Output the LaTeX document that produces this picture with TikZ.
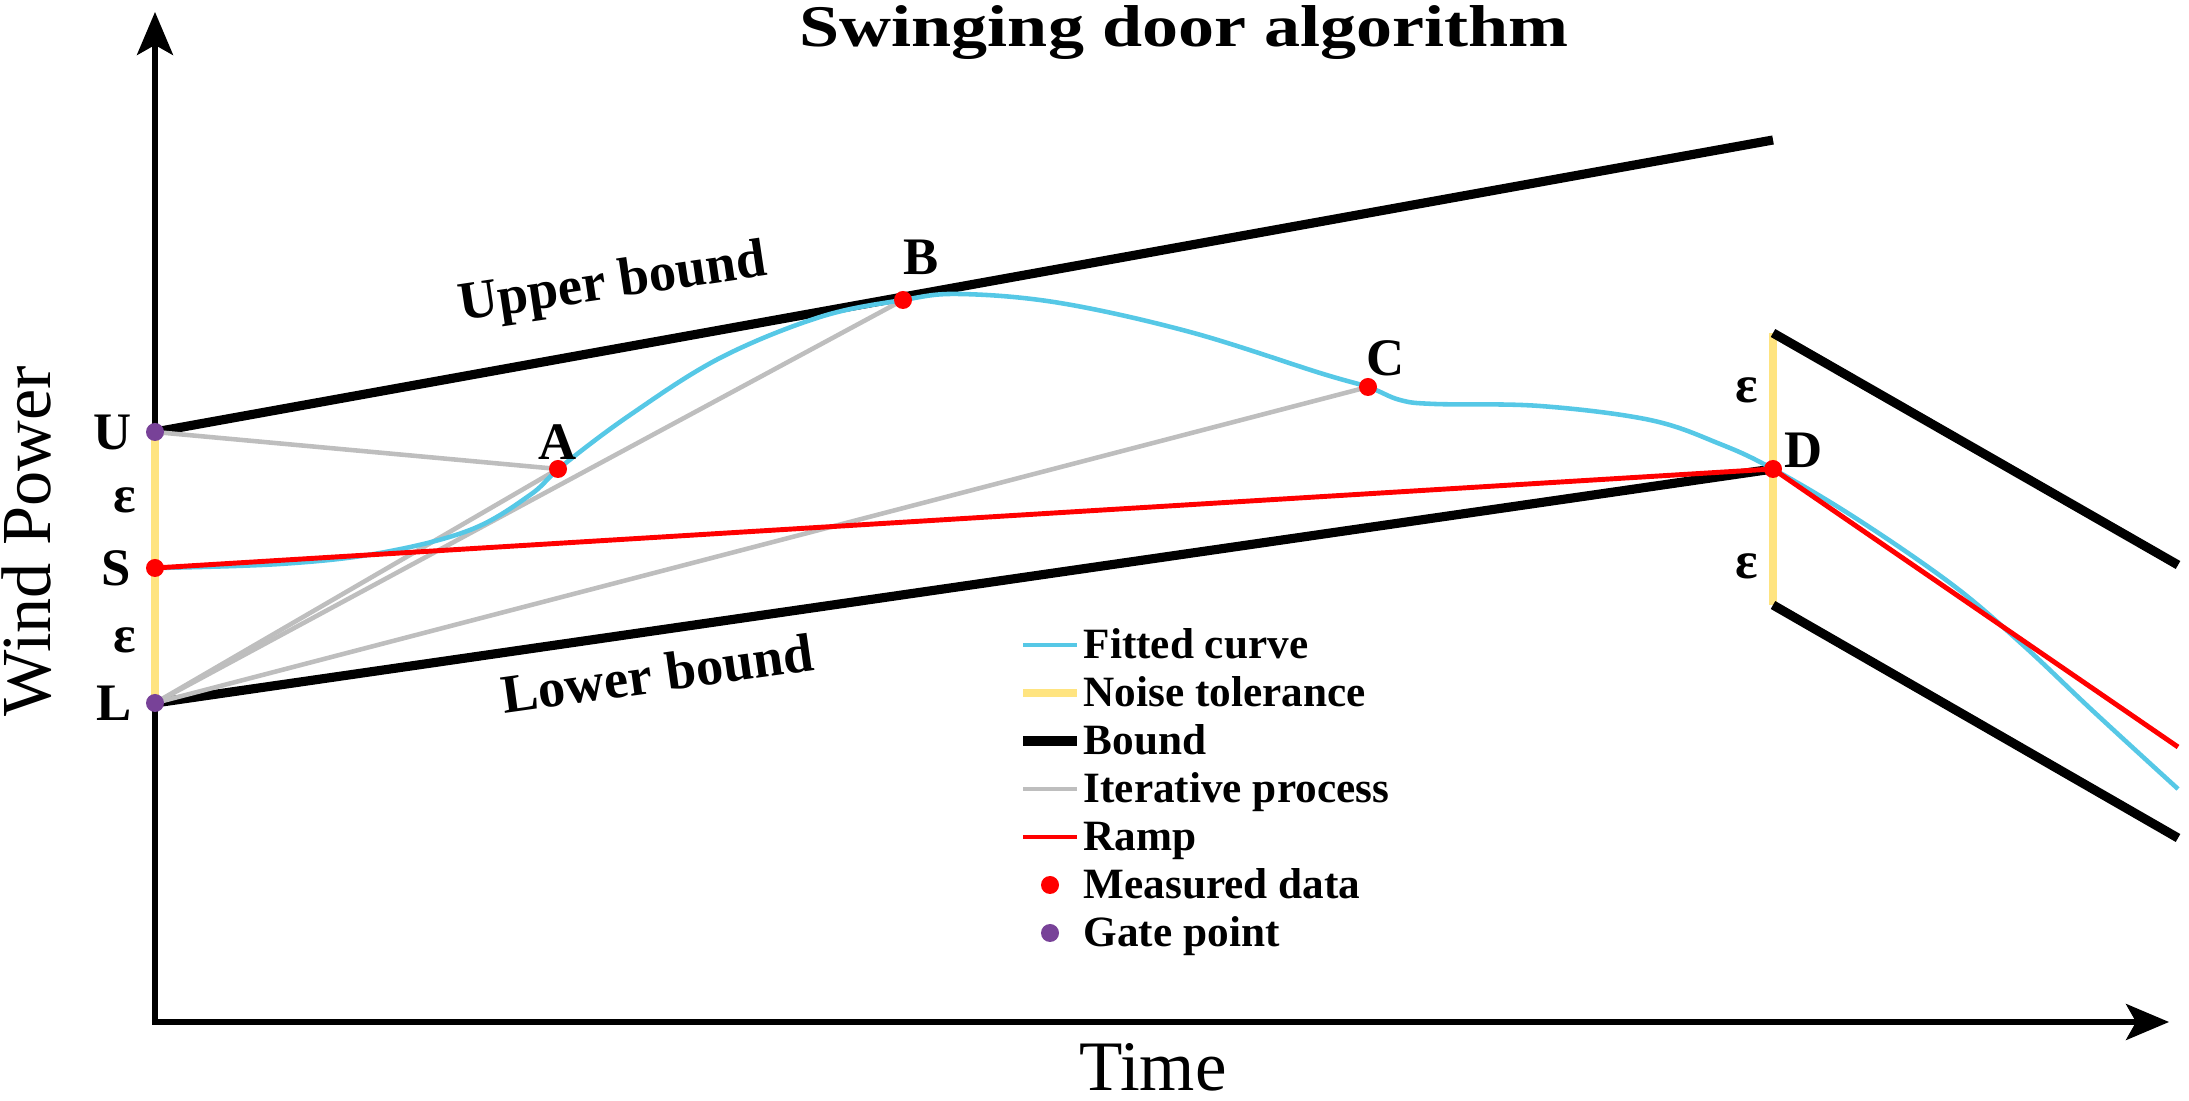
\documentclass[tikz,border=0pt]{standalone}
\usepackage{fontspec}
\setmainfont{Liberation Serif}
\usetikzlibrary{arrows.meta,positioning}
\definecolor{fitblue}{RGB}{86,200,230}
\definecolor{tolyellow}{RGB}{255,228,128}
\definecolor{itergray}{RGB}{190,190,190}
\definecolor{gatepurple}{RGB}{120,66,152}

\begin{document}
\begin{tikzpicture}[
   axis/.style={line width=1.5pt, {Stealth[length=0.43cm,width=0.36cm,inset=0.1cm]}-{Stealth[length=0.43cm,width=0.36cm,inset=0.1cm]}},
   bound/.style={line width=2.6pt},
   tol/.style={tolyellow, line width=2.4pt},
   iter/.style={itergray, line width=1.3pt},
   fitted/.style={fitblue, line width=1.3pt},
   ramp/.style={red, line width=1.4pt},
   mdot/.style={circle, fill=red, inner sep=0pt, minimum size=0.18cm},
   gdot/.style={mdot, fill=gatepurple},
   lbl/.style={inner sep=0pt, font=\fontsize{15}{18}\selectfont\bfseries},
   lgd/.style={anchor=west, inner sep=0pt, text height=0.36cm, text depth=0.08cm, font=\fontsize{12.3}{15}\selectfont\bfseries}
]
\useasboundingbox (0,0) rectangle (21.89,11);

\coordinate (O) at (1.55,0.78);
\coordinate (y_top) at (1.55,10.88);
\coordinate (x_end) at (21.69,0.78);
\coordinate (U) at (1.55,6.68);
\coordinate (S) at (1.55,5.32);
\coordinate (L) at (1.55,3.97);
\coordinate (A) at (5.58,6.31);
\coordinate (B) at (9.03,8.00);
\coordinate (C) at (13.68,7.13);
\coordinate (D) at (17.73,6.31);
\coordinate (ub_end) at (17.73,9.60);
\coordinate (D_up) at (17.73,7.67);
\coordinate (D_lo) at (17.73,4.95);
\coordinate (up_end) at (21.78,5.35);
\coordinate (lo_end) at (21.78,2.62);
\coordinate (ramp_end) at (21.78,3.53);
\coordinate (fit_end) at (21.78,3.11);

\draw[axis] (y_top) -- (O) -- (x_end);
\node[font=\fontsize{16.8}{20}\selectfont\bfseries, anchor=base, inner sep=0pt] (title) at (11.84,10.53) {\scalebox{1.22}[1]{Swinging door algorithm}};
\node[font=\fontsize{20.2}{24}\selectfont, anchor=base, inner sep=0pt] (x_lbl) at (11.53,0.10) {Time};
\node[font=\fontsize{20}{24}\selectfont, rotate=90, anchor=base, inner sep=0pt] (y_lbl) at (0.50,5.59) {Wind Power};

\path[tol] (U) edge (L)
           (D_up) edge (D_lo);
\path[bound] (U) edge (ub_end)
             (L) edge (D)
             (D_up) edge (up_end)
             (D_lo) edge (lo_end);
\path[iter] (U) edge (A)
            (L) edge (A)
                edge (B)
                edge (C);
\draw[fitted] plot[smooth, tension=0.6] coordinates {(S) (2.8,5.36) (3.8,5.47) (4.7,5.70) (5.3,6.05) (5.62,6.34)
   (6.3,6.85) (7.2,7.42) (8.2,7.83) (B) (9.6,8.06) (10.6,7.97) (11.9,7.68) (13.2,7.27) (C) (14.0,7.0)
   (14.35,6.96) (15.4,6.94) (16.5,6.80) (17.2,6.56) (D) (18.57,5.81) (19.54,5.14) (20.24,4.54) (20.94,3.88) (fit_end)};
\draw[ramp] (S) -- (D) -- (ramp_end);

\node[gdot] (U_dot) at (U) {};
\node[gdot] (L_dot) at (L) {};
\node[mdot] (S_dot) at (S) {};
\node[mdot] (A_dot) at (A) {};
\node[mdot] (B_dot) at (B) {};
\node[mdot] (C_dot) at (C) {};
\node[mdot] (D_dot) at (D) {};

\node[lbl, left=0.23cm of U] (U_lbl) {U};
\node[lbl, left=0.23cm of S] (S_lbl) {S};
\node[lbl, left=0.23cm of L] (L_lbl) {L};
\node[lbl] (eps_1) at (1.25,6.00) {ε};
\node[lbl] (eps_2) at (1.25,4.60) {ε};
\node[lbl] (eps_3) at (17.47,7.10) {ε};
\node[lbl] (eps_4) at (17.47,5.34) {ε};
\node[lbl, above=0.09cm of A] (A_lbl) {A};
\node[lbl, above=0.245cm of B, xshift=0.18cm] (B_lbl) {B};
\node[lbl, above=0.10cm of C, xshift=0.18cm] (C_lbl) {C};
\node[lbl, right=0.11cm of D, yshift=0.19cm] (D_lbl) {D};

\node[font=\fontsize{15.5}{18}\selectfont\bfseries, rotate=8.5, anchor=base] (ub_lbl) at (6.15,8.02) {Upper bound};
\node[font=\fontsize{15.5}{18}\selectfont\bfseries, rotate=8.0, anchor=base] (lb_lbl) at (6.60,4.08) {Lower bound};

\begin{scope}[on grid, node distance=0.48cm]
\node[lgd] (t_fit) at (10.83,4.55) {Fitted curve};
\node (t_noise) [below=of t_fit.west, lgd] {Noise tolerance};
\node (t_bound) [below=of t_noise.west, lgd] {Bound};
\node (t_iter) [below=of t_bound.west, lgd] {Iterative process};
\node (t_ramp) [below=of t_iter.west, lgd] {Ramp};
\node (t_meas) [below=of t_ramp.west, lgd] {Measured data};
\node (t_gate) [below=of t_meas.west, lgd] {Gate point};
\end{scope}
\draw[fitted] ([xshift=-0.6cm]t_fit.west) -- ([xshift=-0.06cm]t_fit.west);
\draw[tol] ([xshift=-0.6cm]t_noise.west) -- ([xshift=-0.06cm]t_noise.west);
\draw[bound] ([xshift=-0.6cm]t_bound.west) -- ([xshift=-0.06cm]t_bound.west);
\draw[iter] ([xshift=-0.6cm]t_iter.west) -- ([xshift=-0.06cm]t_iter.west);
\draw[ramp] ([xshift=-0.6cm]t_ramp.west) -- ([xshift=-0.06cm]t_ramp.west);
\node[mdot] (k_meas) at ([xshift=-0.33cm]t_meas.west) {};
\node[gdot] (k_gate) at ([xshift=-0.33cm]t_gate.west) {};
\end{tikzpicture}
\end{document}
